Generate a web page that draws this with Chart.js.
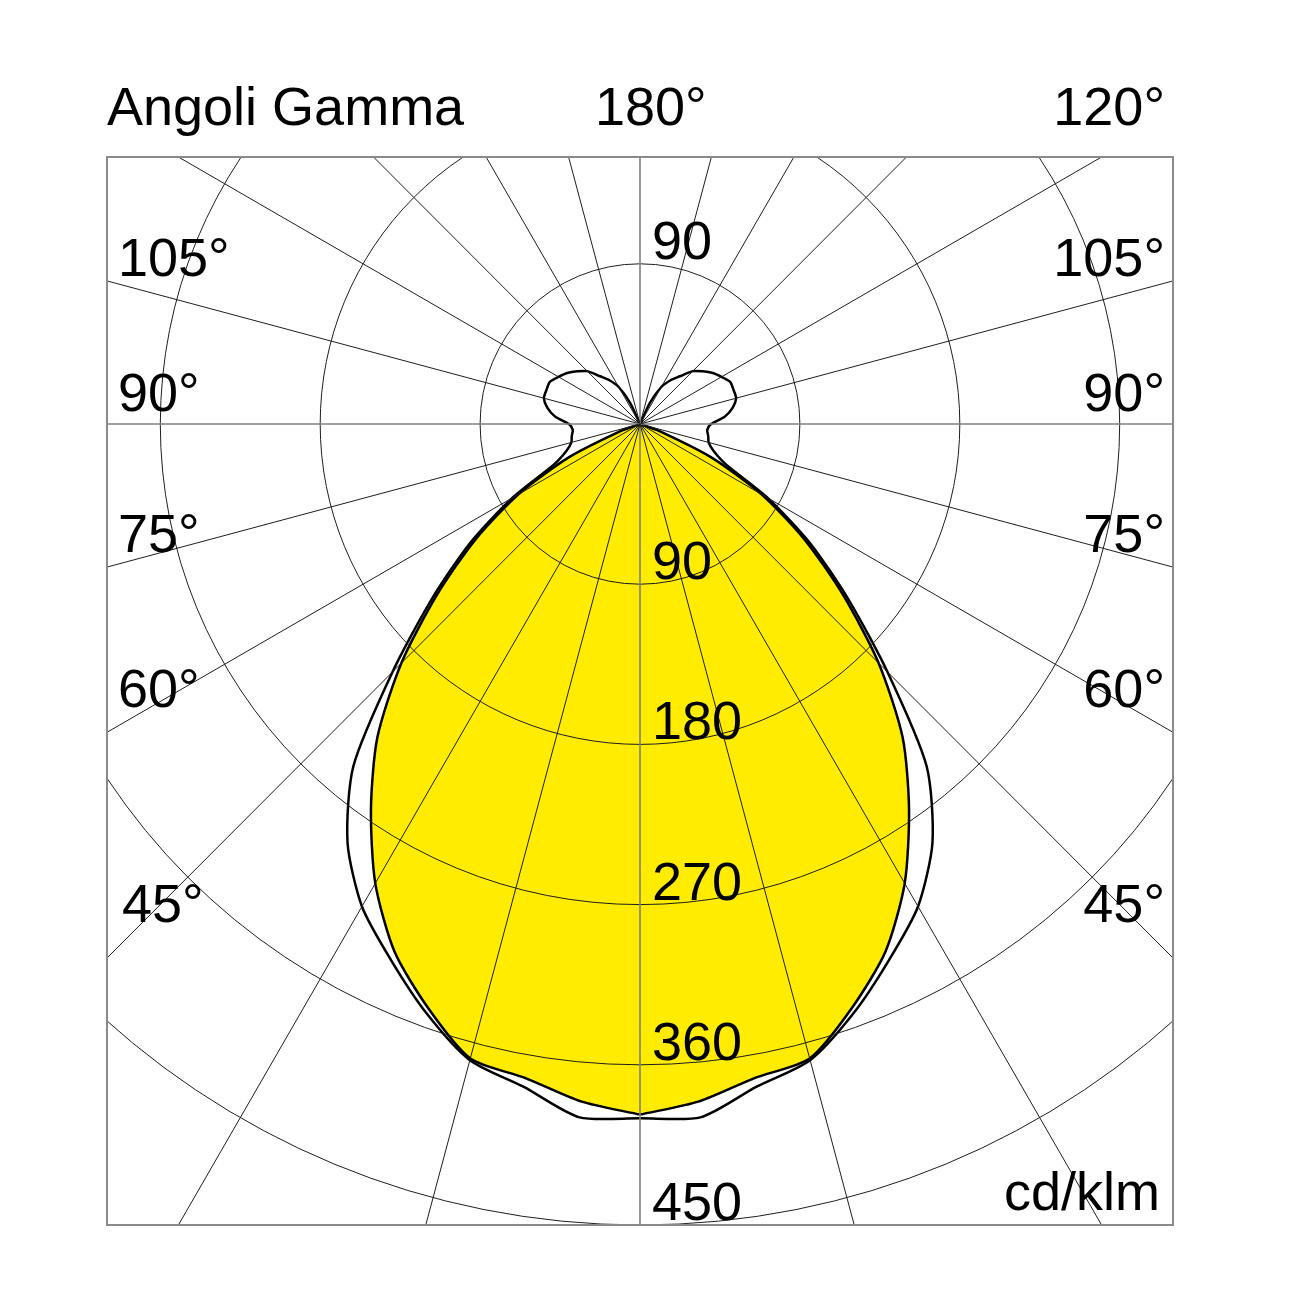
<!DOCTYPE html>
<html>
<head>
<meta charset="utf-8">
<title>Angoli Gamma</title>
<script src="https://cdn.jsdelivr.net/npm/chart.js@4.4.1/dist/chart.umd.min.js"></script>
<style>
    html, body { margin: 0; padding: 0; background: #fff; }
    canvas { display: block; }
</style>
</head>
<body>
<canvas id="polarChart" width="1302" height="1302"></canvas>
<script>
// gamma angles in degrees, 0 = straight down, 180 = straight up
const gammaAngles = [0, 5, 10, 15, 20, 25, 30, 35, 40, 45, 50, 55, 60, 65, 70, 75, 80, 85, 90,
    95, 100, 105, 110, 115, 120, 125, 130, 135, 140, 145, 150, 155, 160, 165, 170, 175, 180];

// C0-C180 plane (yellow), cd/klm
const c0Values = [388, 382, 373, 369, 349, 327, 298, 264, 230, 190, 149, 113, 79, 44, 12, 0, 0, 0, 0,
    0, 0, 0, 0, 0, 0, 0, 0, 0, 0, 0, 0, 0, 0, 0, 0, 0, 0];

// C90-C270 plane (black outline), cd/klm
const c90Values = [390, 391, 378, 370, 352, 332, 313, 287, 251, 197, 153, 117, 83, 53, 44, 40, 39, 38, 40,
    48, 53, 56, 56, 56, 53, 50, 46, 42, 35, 30, 24, 13, 0, 0, 0, 0, 0];

// grid
const ringValues = [90, 180, 270, 360, 450];
const spokeAngles = [0, 15, 30, 45, 60, 75, 90, 105, 120, 135, 150, 165, 180,
    195, 210, 225, 240, 255, 270, 285, 300, 315, 330, 345];

// labels
const titleText = 'Angoli Gamma';
const topCenterLabel = '180°';
const topRightLabel = '120°';
const sideAngles = [105, 90, 75, 60, 45];
const unitLabel = 'cd/klm';

const FONT = '54px "Liberation Sans", Arial, Helvetica, sans-serif';

// closed outline of one plane: right half 0->180, left half 180->0.
// the centre is kept twice so the spline keeps its cusp there
function planeOutline(values) {
    const right = [];
    const left = [];
    for (let i = 0; i < gammaAngles.length; i++) {
        const g = gammaAngles[i] * Math.PI / 180;
        const r = values[i];
        right.push({ x: r * Math.sin(g), y: -r * Math.cos(g) });
        left.push({ x: -r * Math.sin(g), y: -r * Math.cos(g) });
        if (r === 0) break;
    }
    return right.concat(left.reverse());
}

const polarGrid = {
    id: 'polarGrid',
    afterDatasetsDraw(chart) {
        const { ctx, chartArea, scales: { x, y } } = chart;
        const cx = x.getPixelForValue(0);
        const cy = y.getPixelForValue(0);

        ctx.save();
        ctx.beginPath();
        ctx.rect(chartArea.left, chartArea.top, chartArea.width, chartArea.height);
        ctx.clip();

        // rings
        ctx.strokeStyle = '#1e1e1e';
        ctx.lineWidth = 1;
        ringValues.forEach(v => {
            const rx = x.getPixelForValue(v) - cx;
            const ry = cy - y.getPixelForValue(v);
            ctx.beginPath();
            ctx.ellipse(cx, cy, rx, ry, 0, 0, Math.PI * 2);
            ctx.stroke();
        });

        // spokes
        spokeAngles.forEach(a => {
            const g = a * Math.PI / 180;
            const main = a % 90 === 0;
            ctx.strokeStyle = main ? '#808080' : '#1e1e1e';
            ctx.lineWidth = main ? 1.6 : 1;
            ctx.beginPath();
            ctx.moveTo(cx, cy);
            ctx.lineTo(x.getPixelForValue(1000 * Math.sin(g)), y.getPixelForValue(-1000 * Math.cos(g)));
            ctx.stroke();
        });
        ctx.restore();

        // frame
        ctx.save();
        ctx.strokeStyle = '#8a8a8a';
        ctx.lineWidth = 2;
        ctx.strokeRect(chartArea.left, chartArea.top, chartArea.width, chartArea.height);
        ctx.restore();
    },
    afterDraw(chart) {
        const { ctx, chartArea, scales: { x, y } } = chart;
        const cx = x.getPixelForValue(0);

        ctx.save();
        ctx.font = FONT;
        ctx.fillStyle = '#000';
        ctx.textBaseline = 'alphabetic';

        // header row
        const headY = chartArea.top - 32;
        ctx.textAlign = 'left';
        ctx.fillText(titleText, chartArea.left, headY);
        ctx.fillText(topCenterLabel, cx - ctx.measureText('180').width / 2, headY);
        ctx.textAlign = 'right';
        ctx.fillText(topRightLabel, chartArea.right - 8, headY);

        // side angle labels, sitting above the spoke where it leaves the frame
        const gaps = [5, 13, 15, 25, 36];
        sideAngles.forEach((a, i) => {
            const g = a * Math.PI / 180;
            const edgeY = y.getPixelForValue(-300 * Math.cos(g) / Math.sin(g));
            const base = edgeY - gaps[i];
            ctx.textAlign = 'left';
            ctx.fillText(a + '°', chartArea.left + 11 + (a === 45 ? 4 : 0), base);
            ctx.textAlign = 'right';
            ctx.fillText(a + '°', chartArea.right - 8, base);
        });

        // ring values along the vertical axis
        ctx.textAlign = 'left';
        ctx.fillText(String(ringValues[0]), cx + 12, y.getPixelForValue(ringValues[0]) - 5);
        ringValues.forEach(v => {
            ctx.fillText(String(v), cx + 12, y.getPixelForValue(-v) - 5);
        });

        // unit
        ctx.textAlign = 'right';
        ctx.fillText(unitLabel, chartArea.right - 13, chartArea.bottom - 15);
        ctx.restore();
    }
};

const ctx = document.getElementById('polarChart').getContext('2d');
new Chart(ctx, {
    type: 'scatter',
    data: {
        datasets: [
            {
                label: 'C90-C270',
                data: planeOutline(c90Values),
                showLine: true,
                fill: false,
                borderColor: '#000',
                borderWidth: 2.5,
                pointRadius: 0,
                tension: 0.25
            },
            {
                label: 'C0-C180',
                data: planeOutline(c0Values),
                showLine: true,
                fill: 'shape',
                backgroundColor: '#ffec00',
                borderColor: '#000',
                borderWidth: 2.5,
                pointRadius: 0,
                tension: 0.25
            }
        ]
    },
    options: {
        responsive: false,
        animation: false,
        devicePixelRatio: 1,
        layout: { padding: { left: 107, right: 129, top: 157, bottom: 77 } },
        scales: {
            x: { type: 'linear', min: -300, max: 300, display: false },
            y: { type: 'linear', min: -450, max: 150, display: false }
        },
        plugins: {
            legend: { display: false },
            tooltip: { enabled: false }
        }
    },
    plugins: [polarGrid]
});
</script>
</body>
</html>
